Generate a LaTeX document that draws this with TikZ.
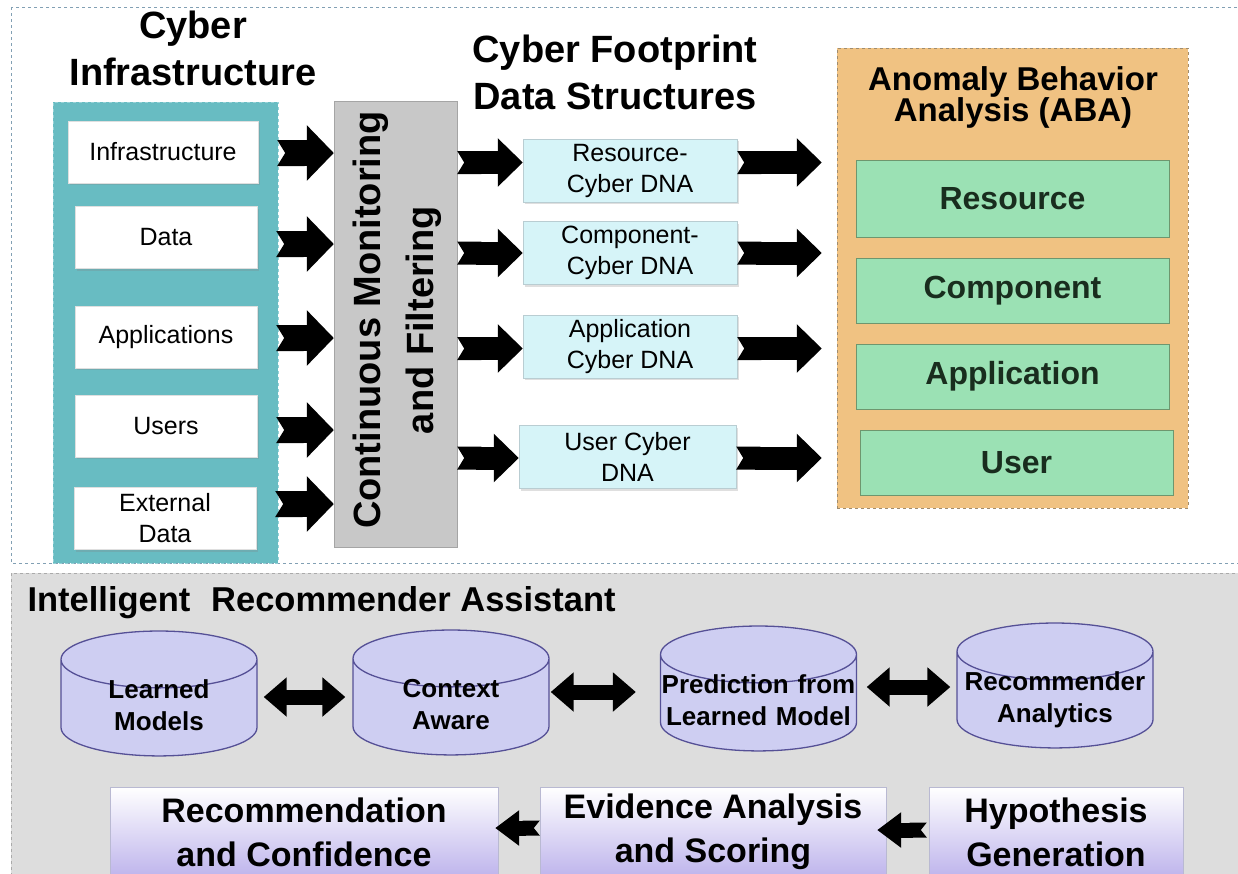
\documentclass[tikz,border=0pt]{standalone}
\usepackage{fontspec}
\setmainfont{Liberation Sans}
\usepackage{tikz}
\usetikzlibrary{arrows.meta}
\usetikzlibrary{calc}
\usetikzlibrary{shadows}
\usetikzlibrary{shapes.geometric}
\usetikzlibrary{positioning}

\definecolor{framecol}{RGB}{130,160,180}
\definecolor{tealcol}{RGB}{104,188,194}
\definecolor{tealedge}{RGB}{150,210,215}
\definecolor{mongray}{RGB}{200,200,200}
\definecolor{monedge}{RGB}{165,165,165}
\definecolor{dnafill}{RGB}{214,244,248}
\definecolor{dnaedge}{RGB}{185,205,210}
\definecolor{abafill}{RGB}{240,194,130}
\definecolor{abaedge}{RGB}{160,140,110}
\definecolor{grnfill}{RGB}{155,225,180}
\definecolor{grnedge}{RGB}{110,150,110}
\definecolor{grntext}{RGB}{25,45,30}
\definecolor{botgray}{RGB}{221,221,221}
\definecolor{botedge}{RGB}{170,170,170}
\definecolor{cylfill}{RGB}{206,206,242}
\definecolor{cyledge}{RGB}{85,80,150}
\definecolor{lavbot}{RGB}{190,180,236}
\definecolor{boxedge}{RGB}{185,185,210}

\tikzset{
  ttl/.style={font=\bfseries\fontsize{38}{47}\selectfont, align=center, inner sep=0pt},
  srcbox/.style={draw=gray!25, fill=white, minimum width=182pt, minimum height=62pt,
    font=\fontsize{25}{31}\selectfont, align=center, inner sep=2pt,
    drop shadow={shadow xshift=2pt, shadow yshift=-2pt, opacity=0.25}},
  dnabox/.style={draw=dnaedge, fill=dnafill, minimum width=214pt, minimum height=63pt,
    font=\fontsize{25}{31}\selectfont, align=center, inner sep=2pt,
    drop shadow={shadow xshift=2pt, shadow yshift=-2pt, opacity=0.25}},
  grnbox/.style={draw=grnedge, fill=grnfill, minimum width=313pt, minimum height=65pt,
    font=\bfseries\fontsize{32}{38}\selectfont, text=grntext},
  cyl/.style={cylinder, shape border rotate=90, aspect=0.29, draw=cyledge, fill=cylfill,
    line width=1.3pt, text width=196pt, text height=9pt, text depth=28pt,
    inner xsep=0pt, inner ysep=1pt,
    font=\bfseries\fontsize{26}{32}\selectfont, align=center},
  botbox/.style={draw=boxedge, top color=white, bottom color=lavbot, minimum height=90pt,
    font=\bfseries\fontsize{34}{44}\selectfont, align=center},
  fatin/.style={line width=26pt, {Triangle Cap[reversed,length=8pt]}-{Triangle[length=27pt,width=54pt]}},
  fatmid/.style={line width=23pt, {Triangle Cap[reversed,length=7pt]}-{Triangle[length=25pt,width=47pt]}},
  dblarrow/.style={line width=15pt, {Triangle[length=23pt,width=38pt]}-{Triangle[length=23pt,width=38pt]}},
  smallarrow/.style={line width=15pt, {Triangle Cap[reversed,length=6pt]}-{Triangle[length=24pt,width=34pt]}}
}

\begin{document}
\begin{tikzpicture}[x=1pt, y=-1pt]
        \useasboundingbox (0,0) rectangle (1238,873);
        \clip (0,0) rectangle (1238,873);
        \fill[white] (0,0) rectangle (1238,873);

        % frames of the two parts
        \draw[framecol, dashed, line width=1pt] (11,7) rectangle (1250,563);
        \filldraw[fill=botgray, draw=botedge, dashed, line width=1pt] (11,573) rectangle (1250,885);

        % cyber infrastructure
        \node[ttl] (ci-title) at (193,48) {Cyber\\Infrastructure};
        \node[fill=tealcol, draw=tealedge, dashed, minimum width=225pt, minimum height=461pt] (src-col) at (165.5,332.5) {};
        \node[srcbox, minimum width=190pt] (infra) at (163,152) {Infrastructure};
        \node[srcbox] (data) at (166,237.5) {Data};
        \node[srcbox] (apps) at (166,337) {Applications};
        \node[srcbox] (users) at (166,426) {Users};
        \node[srcbox] (ext) at (165,518.5) {External\\Data};

        % monitoring
        \node[fill=mongray, draw=monedge, minimum width=123pt, minimum height=446pt] (monitor) at (395.5,324) {};
        \node[rotate=90, font=\bfseries\fontsize{38}{53}\selectfont, align=center] (monitor-txt) at (397,320) {Continuous Monitoring\\and Filtering};

        % cyber DNA
        \node[ttl] (cf-title) at (615,72) {Cyber Footprint\\Data Structures};
        \node[dnabox] (dna-res) at (630,170.5) {Resource-\\Cyber DNA};
        \node[dnabox] (dna-comp) at (630,253) {Component-\\Cyber DNA};
        \node[dnabox] (dna-app) at (630,346.5) {Application\\Cyber DNA};
        \node[dnabox, minimum width=217pt] (dna-user) at (627.5,457) {User Cyber\\DNA};

        % anomaly behavior analysis
        \node[fill=abafill, draw=abaedge, dashed, minimum width=351pt, minimum height=460pt] (aba) at (1012.5,278) {};
        \node[font=\bfseries\fontsize{33}{31}\selectfont, align=center] (aba-title) at (1013,97) {Anomaly Behavior\\Analysis (ABA)};
        \node[grnbox, minimum height=77pt] (g-res) at (1012.5,198.5) {Resource};
        \node[grnbox, below=21pt of g-res] (g-comp) {Component};
        \node[grnbox, below=20pt of g-comp] (g-app) {Application};
        \node[grnbox, below=21pt of g-app, xshift=4pt] (g-user) {User};

        \foreach \src/\dy in {infra/1, data/6.5, apps/1, users/4, ext/-14.5}
            \draw[fatin] ($(\src.east)+(19,\dy)$) -- ($(monitor.west |- \src.east)+(0,\dy)$);
        \foreach \dna/\dy in {dna-res/-8, dna-comp/0, dna-app/2, dna-user/1}{
            \draw[fatmid] ($(monitor.east |- \dna.west)+(0,\dy)$) -- ($(\dna.west)+(0,\dy)$);
            \draw[fatmid] ($(\dna.east)+(0,\dy)$) -- ($(aba.west |- \dna.east)+(-15,\dy)$);
        }

        % intelligent recommender assistant
        \node[font=\bfseries\fontsize{34.5}{40}\selectfont, anchor=west] (ira-title) at (24,603) {Intelligent\hspace{0.6em}Recommender Assistant};
        \node[cyl] (lm) at (159,708) {Learned\\Models};
        \node[cyl] (ca) at (451,707) {Context\\Aware};
        \node[cyl] (pred) at (758.5,703) {Prediction from\\Learned Model};
        \node[cyl] (rec) at (1055,700) {Recommender\\Analytics};

        \draw[dblarrow, shorten <=6pt, shorten >=7pt] ($(lm.center -| lm.east)+(0,-11)$) -- ($(lm.center -| ca.west)+(0,-11)$);
        \draw[dblarrow, shorten <=1pt, shorten >=24pt] ($(ca.center -| ca.east)+(0,-15)$) -- ($(ca.center -| pred.west)+(0,-15)$);
        \draw[dblarrow, shorten <=9.5pt, shorten >=6pt] ($(pred.center -| pred.east)+(0,-16)$) -- ($(pred.center -| rec.west)+(0,-16)$);

        \node[botbox, minimum width=388pt] (rc) at (304,832) {Recommendation\\and Confidence};
        \node[botbox, minimum width=346pt] (ev) at (713,832) {Evidence Analysis\\and Scoring};
        \node[botbox, minimum width=254pt] (hyp) at (1056,832) {Hypothesis\\Generation};

        \draw[smallarrow, shorten >=-3pt] ($(ev.west)+(0,-4)$) -- ($(rc.east)+(0,-4)$);
        \draw[smallarrow, shorten <=2pt, shorten >=-9pt] ($(hyp.west)+(0,-2)$) -- ($(ev.east)+(0,-2)$);
\end{tikzpicture}
\end{document}
